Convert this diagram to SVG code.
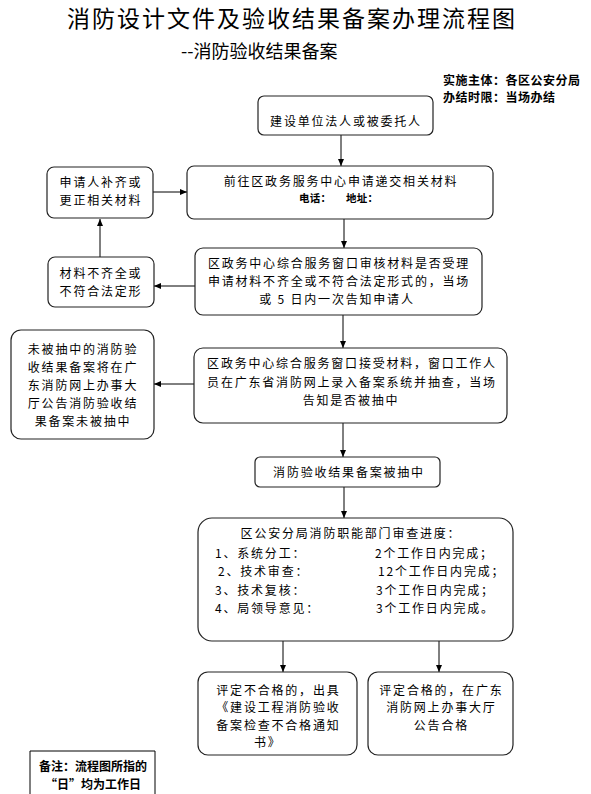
<svg xmlns="http://www.w3.org/2000/svg" width="591" height="794" viewBox="0 0 591 794">
<style>
text{font-family:"Noto Sans CJK SC","Liberation Sans",sans-serif;fill:#000}
.t{font-size:12px;letter-spacing:1.8px}
.m{text-anchor:middle}
.b{fill:#fff;stroke:#222;stroke-width:1.2}
.c{stroke:#000;stroke-width:1;fill:none}
.h{font-weight:bold;font-size:12px;letter-spacing:0.5px}
</style>
<defs>
<marker id="ah" markerUnits="userSpaceOnUse" markerWidth="7" markerHeight="6" refX="7" refY="3" orient="auto">
<path d="M0,0 L7,3 L0,6 z" fill="#000"/>
</marker>
</defs>
<rect width="591" height="794" fill="#fff"/>
<g id="title">
<text x="292" y="27" class="m" style="font-size:23px;letter-spacing:2px">消防设计文件及验收结果备案办理流程图</text>
<text x="181" y="58" style="font-size:18px">--消防验收结果备案</text>
<text x="443" y="84.5" class="h">实施主体：各区公安分局</text>
<text x="443" y="102" class="h">办结时限：当场办结</text>
</g>
<g id="connectors">
<path class="c" d="M341,135 V166" marker-end="url(#ah)"/>
<path class="c" d="M153,192 H187" marker-end="url(#ah)"/>
<path class="c" d="M344,219 V248" marker-end="url(#ah)"/>
<path class="c" d="M195,286 H154" marker-end="url(#ah)"/>
<path class="c" d="M100,257 V219" marker-end="url(#ah)"/>
<path class="c" d="M343,315 V348" marker-end="url(#ah)"/>
<path class="c" d="M194,384 H154" marker-end="url(#ah)"/>
<path class="c" d="M343,423 V457" marker-end="url(#ah)"/>
<path class="c" d="M344,487 V518" marker-end="url(#ah)"/>
<path class="c" d="M283,641 V672" marker-end="url(#ah)"/>
<path class="c" d="M439,641 V672" marker-end="url(#ah)"/>
</g>
<g id="nodeA">
<rect class="b" x="258" y="96" width="175" height="39" rx="6"/>
<text class="t m" x="346" y="125.6">建设单位法人或被委托人</text>
</g>
<g id="nodeB">
<rect class="b" x="187" y="166" width="306" height="53" rx="7"/>
<text class="t m" x="341" y="186.3">前往区政务服务中心申请递交相关材料</text>
<text x="299" y="202.3" style="font-size:10.5px;font-weight:bold;letter-spacing:0.3px">电话：</text>
<text x="346" y="202.3" style="font-size:10.5px;font-weight:bold;letter-spacing:0.3px">地址：</text>
</g>
<g id="nodeC">
<rect class="b" x="47" y="167" width="106" height="51" rx="7"/>
<text class="t m" x="101" y="186.6">申请人补齐或</text>
<text class="t m" x="101" y="204.6">更正相关材料</text>
</g>
<g id="nodeD">
<rect class="b" x="195" y="248" width="287" height="67" rx="8"/>
<text class="t m" x="339" y="267.6">区政务中心综合服务窗口审核材料是否受理</text>
<text class="t m" x="339" y="285.6">申请材料不齐全或不符合法定形式的，当场</text>
<text class="t m" x="337" y="303.6">或 5 日内一次告知申请人</text>
</g>
<g id="nodeE">
<rect class="b" x="48" y="257" width="106" height="50" rx="7"/>
<text class="t m" x="101" y="277.6">材料不齐全或</text>
<text class="t m" x="101" y="296">不符合法定形</text>
</g>
<g id="nodeF">
<rect class="b" x="194" y="348" width="313" height="75" rx="9"/>
<text class="t m" x="352" y="367.6">区政务中心综合服务窗口接受材料，窗口工作人</text>
<text class="t m" x="352" y="386.6">员在广东省消防网上录入备案系统并抽查，当场</text>
<text class="t m" x="351" y="404.6">告知是否被抽中</text>
</g>
<g id="nodeG">
<rect class="b" x="11" y="330" width="143" height="109" rx="10"/>
<text class="t m" x="83" y="353.6">未被抽中的消防验</text>
<text class="t m" x="83" y="371.8">收结果备案将在广</text>
<text class="t m" x="83" y="390">东消防网上办事大</text>
<text class="t m" x="83" y="408.2">厅公告消防验收结</text>
<text class="t m" x="83" y="426.4">果备案未被抽中</text>
</g>
<g id="nodeH">
<rect class="b" x="255" y="457" width="185" height="30" rx="5"/>
<text class="t m" x="349" y="476.6">消防验收结果备案被抽中</text>
</g>
<g id="nodeI">
<rect class="b" x="198" y="518" width="315" height="123" rx="14"/>
<text class="t m" x="351" y="537.6">区公安分局消防职能部门审查进度：</text>
<text class="t" x="215" y="557.6">1、系统分工：</text>
<text class="t" x="375" y="557.6">2个工作日内完成；</text>
<text class="t" x="218" y="576.2">2、技术审查：</text>
<text class="t" x="378" y="576.2">12个工作日内完成；</text>
<text class="t" x="215" y="594.6">3、技术复核：</text>
<text class="t" x="376" y="594.6">3个工作日内完成；</text>
<text class="t" x="215" y="612.6">4、局领导意见：</text>
<text class="t" x="376" y="612.6">3个工作日内完成。</text>
</g>
<g id="nodeJ">
<rect class="b" x="198" y="672" width="159" height="83" rx="10"/>
<text class="t m" x="278.4" y="694.5">评定不合格的，出具</text>
<text class="t m" x="278.4" y="712">《建设工程消防验收</text>
<text class="t m" x="278.4" y="729.5">备案检查不合格通知</text>
<text class="t" x="254" y="747">书》</text>
</g>
<g id="nodeK">
<rect class="b" x="368" y="672" width="145" height="83" rx="10"/>
<text class="t m" x="441.4" y="694.5">评定合格的，在广东</text>
<text class="t m" x="441.4" y="712">消防网上办事大厅</text>
<text class="t m" x="441.4" y="729.5">公告合格</text>
</g>
<g id="note">
<path d="M30,800 V751 H155 V800" fill="#fff" stroke="#000" stroke-width="1"/>
<text class="m" x="93" y="770.5" style="font-size:12px;font-weight:bold">备注：流程图所指的</text>
<text class="m" x="93" y="788.5" style="font-size:12px;font-weight:bold">“日”均为工作日</text>
</g>
</svg>
